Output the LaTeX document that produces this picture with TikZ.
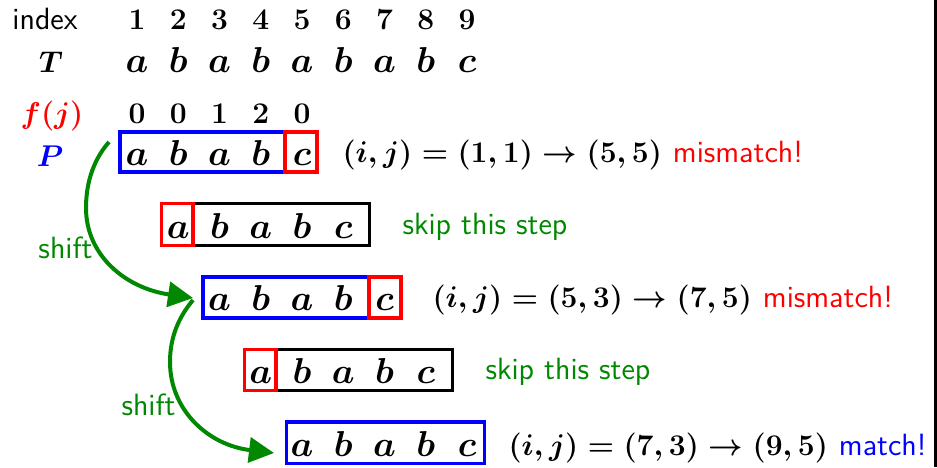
\documentclass[tikz,border=0pt]{standalone}
\usetikzlibrary{arrows.meta,fit}
\definecolor{dgreen}{RGB}{0,136,0}
\begin{document}
\begin{tikzpicture}[x=0.4pt,y=-0.4pt,
  sans/.style={font=\fontsize{12.3}{14}\selectfont\sffamily, inner sep=0pt},
  digit/.style={font=\fontsize{12}{14}\selectfont\boldmath, inner sep=0pt, anchor=base},
  letter/.style={font=\fontsize{14.5}{17}\selectfont\boldmath, inner sep=0pt, anchor=base},
  lab/.style={font=\fontsize{13}{15}\selectfont\boldmath, inner sep=0pt, anchor=base},
  formula/.style={font=\fontsize{12.7}{15}\selectfont\boldmath, inner sep=0pt, anchor=base west},
  cell/.style={draw, line width=1.5pt, inner sep=0pt},
  shiftarrow/.style={draw=dgreen, line width=1.6pt, -{Triangle[length=10pt,width=10pt]}},
]
\useasboundingbox (0,0) rectangle (937,467);
% right frame edge
\coordinate (ft) at (935.5,0);
\coordinate (fb) at (935.5,467);
\draw[line width=1.2pt] (ft) -- (fb);

% left labels
\node[sans, anchor=base west] (lidx) at (12,29) {index};
\node[lab] (lT) at (51,72) {$T$};
\node[lab, text=red] (lf) at (52,123) {$f(j)$};
\node[lab, text=blue] (lP) at (50,166) {$P$};

% index digits and text
\foreach \k/\t in {1/a,2/b,3/a,4/b,5/a,6/b,7/a,8/b,9/c}{
  \node[digit] (i\k) at ({137+41.25*(\k-1)},29) {$\k$};
  \node[letter] (t\k) at ({137+41.25*(\k-1)},72) {$\t$};
}
% failure function
\foreach \k/\v in {1/0,2/0,3/1,4/2,5/0}{
  \node[digit] (f\k) at ({137+41.25*(\k-1)},123) {$\v$};
}

% row 1
\node[cell, draw=blue, fit={(120,132) (285,172)}] (b1) {};
\node[cell, draw=red, fit={(285,132) (317,172)}] (r1) {};
\foreach \k/\t in {1/a,2/b,3/a,4/b,5/c}{
  \node[letter] (p1\k) at ({137+41.25*(\k-1)},165) {$\t$};
}
\node[formula] (e1) at (342,162) {$(i,j)=(1,1)\to(5,5)$};
\node[sans, text=red, anchor=base west] (m1) at ([xshift=4pt]e1.base east) {mismatch!};

% row 2
\node[cell, draw=black, fit={(193,203.5) (369.5,245.5)}] (b2) {};
\node[cell, draw=red, fit={(161.5,203.5) (193,245.5)}] (r2) {};
\foreach \k/\t in {2/a,3/b,4/a,5/b,6/c}{
  \node[letter] (p2\k) at ({137+41.25*(\k-1)},238) {$\t$};
}
\node[sans, text=dgreen, anchor=base west] (s2) at (402,234) {skip this step};

% row 3
\node[cell, draw=blue, fit={(203,277) (369,318)}] (b3) {};
\node[cell, draw=red, fit={(369,277) (401,318)}] (r3) {};
\foreach \k/\t in {3/a,4/b,5/a,6/b,7/c}{
  \node[letter] (p3\k) at ({137+41.25*(\k-1)},310.5) {$\t$};
}
\node[formula] (e3) at (432,307) {$(i,j)=(5,3)\to(7,5)$};
\node[sans, text=red, anchor=base west] (m3) at ([xshift=4pt]e3.base east) {mismatch!};

% row 4
\node[cell, draw=black, fit={(276,349.5) (452.5,390.5)}] (b4) {};
\node[cell, draw=red, fit={(244.5,349.5) (276,390.5)}] (r4) {};
\foreach \k/\t in {4/a,5/b,6/a,7/b,8/c}{
  \node[letter] (p4\k) at ({137+41.25*(\k-1)},383) {$\t$};
}
\node[sans, text=dgreen, anchor=base west] (s4) at (485,379) {skip this step};

% row 5
\node[cell, draw=blue, fit={(286.5,422) (484.5,463.5)}] (b5) {};
\foreach \k/\t in {5/a,6/b,7/a,8/b,9/c}{
  \node[letter] (p5\k) at ({137+41.25*(\k-1)},456) {$\t$};
}
\node[formula] (e5) at (508,455) {$(i,j)=(7,3)\to(9,5)$};
\node[sans, text=blue, anchor=base west] (m5) at ([xshift=4pt]e5.base east) {match!};

% shift arrows
\coordinate (a1s) at (109,142);
\coordinate (a1e) at (193,298);
\coordinate (a2s) at (193,300);
\coordinate (a2e) at (274,453);
\draw[shiftarrow] (a1s) .. controls (95,158) and (86,180) .. (86,208)
   .. controls (86,255) and (125,288) .. (a1e);
\draw[shiftarrow] (a2s) .. controls (178,318) and (170,338) .. (170,362)
   .. controls (170,410) and (208,445) .. (a2e);
\node[sans, text=dgreen, anchor=base west] (sh1) at (38,258) {shift};
\node[sans, text=dgreen, anchor=base west] (sh2) at (121,415) {shift};
\end{tikzpicture}
\end{document}
